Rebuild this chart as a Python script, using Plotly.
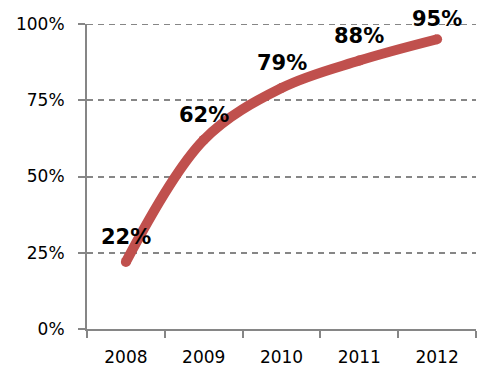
import plotly.graph_objects as go

years = ["2008", "2009", "2010", "2011", "2012"]
shares = [0.22, 0.62, 0.79, 0.88, 0.95]
labels = ["22%", "62%", "79%", "88%", "95%"]
y_ticks = [0, 0.25, 0.5, 0.75, 1.0]
y_tick_labels = ["0%", "25%", "50%", "75%", "100%"]

RED = "#C0504D"
GRAY = "#868686"

WIDTH, HEIGHT = 500, 384
M_L, M_R, M_T, M_B = 87, 24, 24, 55
PLOT_H = HEIGHT - M_T - M_B
LABEL_SHIFT = 25
LABEL_MIN_TOP = 19.5  # labels are kept inside the chart area (pixel centre from top)

fig = go.Figure()
fig.add_trace(go.Scatter(
    x=years, y=shares, mode="lines+markers",
    line=dict(color=RED, width=10, shape="spline", smoothing=1.0),
    marker=dict(color=RED, size=10, line=dict(width=0)),
    hoverinfo="skip", showlegend=False,
))

for i, (y, t) in enumerate(zip(shares, labels)):
    point_px = M_T + (1 - y) * PLOT_H
    shift = min(LABEL_SHIFT, point_px - LABEL_MIN_TOP)
    fig.add_annotation(
        x=i, y=y, xref="x", yref="y", text=f"<b>{t}</b>", showarrow=False,
        yshift=shift, font=dict(family="DejaVu Sans", size=21, color="black"),
    )

# top gridline (plotly drops the grid line at the range edge)
fig.add_shape(type="line", xref="paper", yref="y", x0=0, x1=1, y0=1.0, y1=1.0,
              line=dict(color=GRAY, width=2, dash="6px,5px"), layer="below")

fig.update_layout(
    width=WIDTH, height=HEIGHT,
    margin=dict(l=M_L, r=M_R, t=M_T, b=M_B),
    paper_bgcolor="white", plot_bgcolor="white",
    font=dict(family="DejaVu Sans", size=17, color="black"),
)
fig.update_xaxes(
    type="category", range=[-0.5, 4.5],
    showline=True, linecolor=GRAY, linewidth=2,
    ticks="outside", tickson="boundaries", ticklen=7, tickcolor=GRAY, tickwidth=2,
    showgrid=False, ticklabelstandoff=12,
)
fig.update_yaxes(
    range=[0, 1.0], tickvals=y_ticks, ticktext=y_tick_labels,
    showline=True, linecolor=GRAY, linewidth=2,
    ticks="outside", ticklen=7, tickcolor=GRAY, tickwidth=2,
    showgrid=True, gridcolor=GRAY, gridwidth=2, griddash="6px,5px",
    zeroline=False, ticklabelstandoff=10,
)

fig.write_html(
    "out.html",
    config={"displayModeBar": False},
    post_script="document.body.style.margin='0';document.body.style.overflow='hidden';",
)
